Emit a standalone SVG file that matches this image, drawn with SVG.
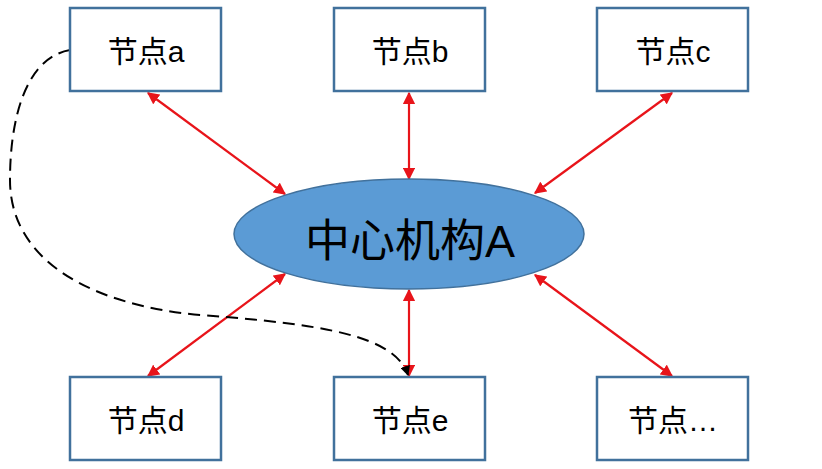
<svg xmlns="http://www.w3.org/2000/svg" width="822" height="469" viewBox="0 0 822 469">
<style>
.box{fill:#fff;stroke:#41719C;stroke-width:2.5}
.lbl{font-family:"Liberation Sans","Noto Sans CJK SC",sans-serif;font-size:30px;fill:#000;text-anchor:middle}
.red{stroke:#E8141A;stroke-width:2.2;fill:none;marker-start:url(#ra);marker-end:url(#ra)}
.dash{stroke:#000;stroke-width:2;fill:none;stroke-dasharray:12 7;marker-end:url(#ba)}
</style>
<defs>
<marker id="ra" viewBox="0 0 10 10" refX="9" refY="5" markerWidth="5.5" markerHeight="5.5" orient="auto-start-reverse" markerUnits="strokeWidth">
<path d="M0,0 L10,5 L0,10 z" fill="#E8141A"/>
</marker>
<marker id="ba" viewBox="0 0 10 10" refX="9" refY="5" markerWidth="5" markerHeight="5" orient="auto" markerUnits="strokeWidth">
<path d="M0,0 L10,5 L0,10 z" fill="#000"/>
</marker>
</defs>
<g id="connectors">
<line class="red" x1="148" y1="93" x2="285" y2="194"/>
<line class="red" x1="409" y1="93" x2="409" y2="179"/>
<line class="red" x1="672" y1="93" x2="535" y2="193"/>
<line class="red" x1="148" y1="376" x2="285" y2="274"/>
<line class="red" x1="409" y1="376" x2="409" y2="290"/>
<line class="red" x1="672" y1="376" x2="535" y2="275"/>
<path class="dash" d="M70,50 C25,58 10,120 10,180 C10,260 90,305 200,315 C320,324 395,335 408,375"/>
</g>
<g id="center">
<ellipse cx="409" cy="234" rx="175" ry="55" fill="#5B9BD5" stroke="#41719C" stroke-width="1.5"/>
<text x="410" y="257" font-family="Liberation Sans,'Noto Sans CJK SC',sans-serif" font-size="45" text-anchor="middle" fill="#000">中心机构A</text>
</g>
<g id="node-a"><rect class="box" x="70" y="8" width="151" height="83"/><text class="lbl" x="146" y="62">节点a</text></g>
<g id="node-b"><rect class="box" x="334" y="8" width="151" height="83"/><text class="lbl" x="410" y="62">节点b</text></g>
<g id="node-c"><rect class="box" x="597" y="8" width="151" height="83"/><text class="lbl" x="673" y="62">节点c</text></g>
<g id="node-d"><rect class="box" x="70" y="377" width="151" height="83"/><text class="lbl" x="146" y="431">节点d</text></g>
<g id="node-e"><rect class="box" x="334" y="377" width="151" height="83"/><text class="lbl" x="410" y="431">节点e</text></g>
<g id="node-more"><rect class="box" x="597" y="377" width="151" height="83"/><text class="lbl" x="673" y="431">节点…</text></g>
</svg>
